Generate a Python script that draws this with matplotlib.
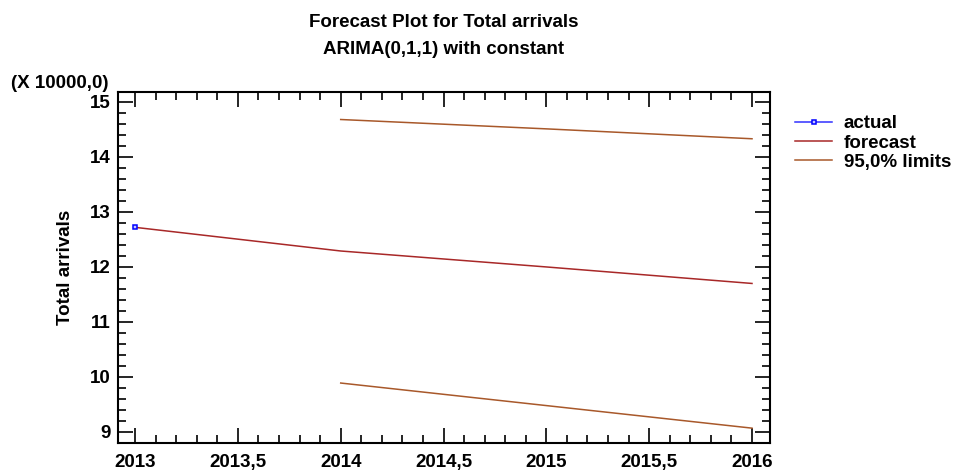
import matplotlib
matplotlib.use("Agg")
import matplotlib.pyplot as plt
from matplotlib.ticker import MultipleLocator, FuncFormatter

plt.rcParams['font.family'] = ['Liberation Sans', 'DejaVu Sans']
plt.rcParams['font.weight'] = 'bold'

FS = 13.5

# Data (values in units of 10000)
actual_years = [2013]
actual_vals = [12.72]

forecast_years = [2013, 2014, 2015, 2016]
forecast_vals = [12.72, 12.29, 12.00, 11.70]

limit_years = [2014, 2015, 2016]
upper_vals = [14.68, 14.51, 14.33]
lower_vals = [9.89, 9.48, 9.07]

fig = plt.figure(figsize=(9.62, 4.70), dpi=100)
ax = fig.add_axes([118 / 962, 1 - 443 / 470, (770 - 118) / 962, (443 - 92) / 470])

ax.plot(forecast_years, forecast_vals, color='#A82828', lw=1.1, label='forecast', zorder=2)
ax.plot(limit_years, upper_vals, color='#A8582A', lw=1.1, label='95,0% limits', zorder=2)
ax.plot(limit_years, lower_vals, color='#A8582A', lw=1.1, zorder=2)
ax.plot(actual_years, actual_vals, color='#3030FF', lw=1.1, marker='s', ms=3.2,
        mfc='#C8C8FF', mec='#0000FF', mew=1.1, label='actual', zorder=3)

ax.set_xlim(2012.917, 2016.0875)
ax.set_ylim(8.8, 15.18)

ax.xaxis.set_major_locator(MultipleLocator(0.5))
ax.xaxis.set_minor_locator(MultipleLocator(0.1))
ax.yaxis.set_major_locator(MultipleLocator(1))
ax.yaxis.set_minor_locator(MultipleLocator(0.2))

def comma_fmt(v, pos):
    s = ('%g' % round(v, 3))
    return s.replace('.', ',')

ax.xaxis.set_major_formatter(FuncFormatter(comma_fmt))
ax.yaxis.set_major_formatter(FuncFormatter(comma_fmt))

ax.tick_params(axis='both', which='both', direction='in', top=True, right=True,
               labelsize=FS, width=1.2)
ax.tick_params(which='major', length=11)
ax.tick_params(which='minor', length=6)
ax.tick_params(axis='x', which='major', pad=8)
ax.tick_params(axis='y', which='major', pad=5.5)
for lbl in ax.get_xticklabels() + ax.get_yticklabels():
    lbl.set_fontweight('bold')
for sp in ax.spines.values():
    sp.set_linewidth(1.5)

ax.set_ylabel('Total arrivals', fontsize=FS, fontweight='bold', labelpad=11)
fig.text(60 / 962, 1 - 88 / 470, '(X 10000,0)', fontsize=FS, fontweight='bold',
         ha='center', va='baseline')

fig.text(444 / 962, 1 - 27 / 470, 'Forecast Plot for Total arrivals', fontsize=FS,
         fontweight='bold', ha='center', va='baseline')
fig.text(444 / 962, 1 - 54 / 470, 'ARIMA(0,1,1) with constant', fontsize=FS,
         fontweight='bold', ha='center', va='baseline')

handles, labels = ax.get_legend_handles_labels()
order = [labels.index('actual'), labels.index('forecast'), labels.index('95,0% limits')]
leg = fig.legend([handles[i] for i in order], [labels[i] for i in order],
                 loc='upper left', bbox_to_anchor=(795 / 962, 1 - 115 / 470),
                 frameon=False, fontsize=FS, handlelength=2.0, handletextpad=0.6,
                 labelspacing=0.12, borderaxespad=0, borderpad=0)
for t in leg.get_texts():
    t.set_fontweight('bold')

fig.savefig('out.png', dpi=100)
